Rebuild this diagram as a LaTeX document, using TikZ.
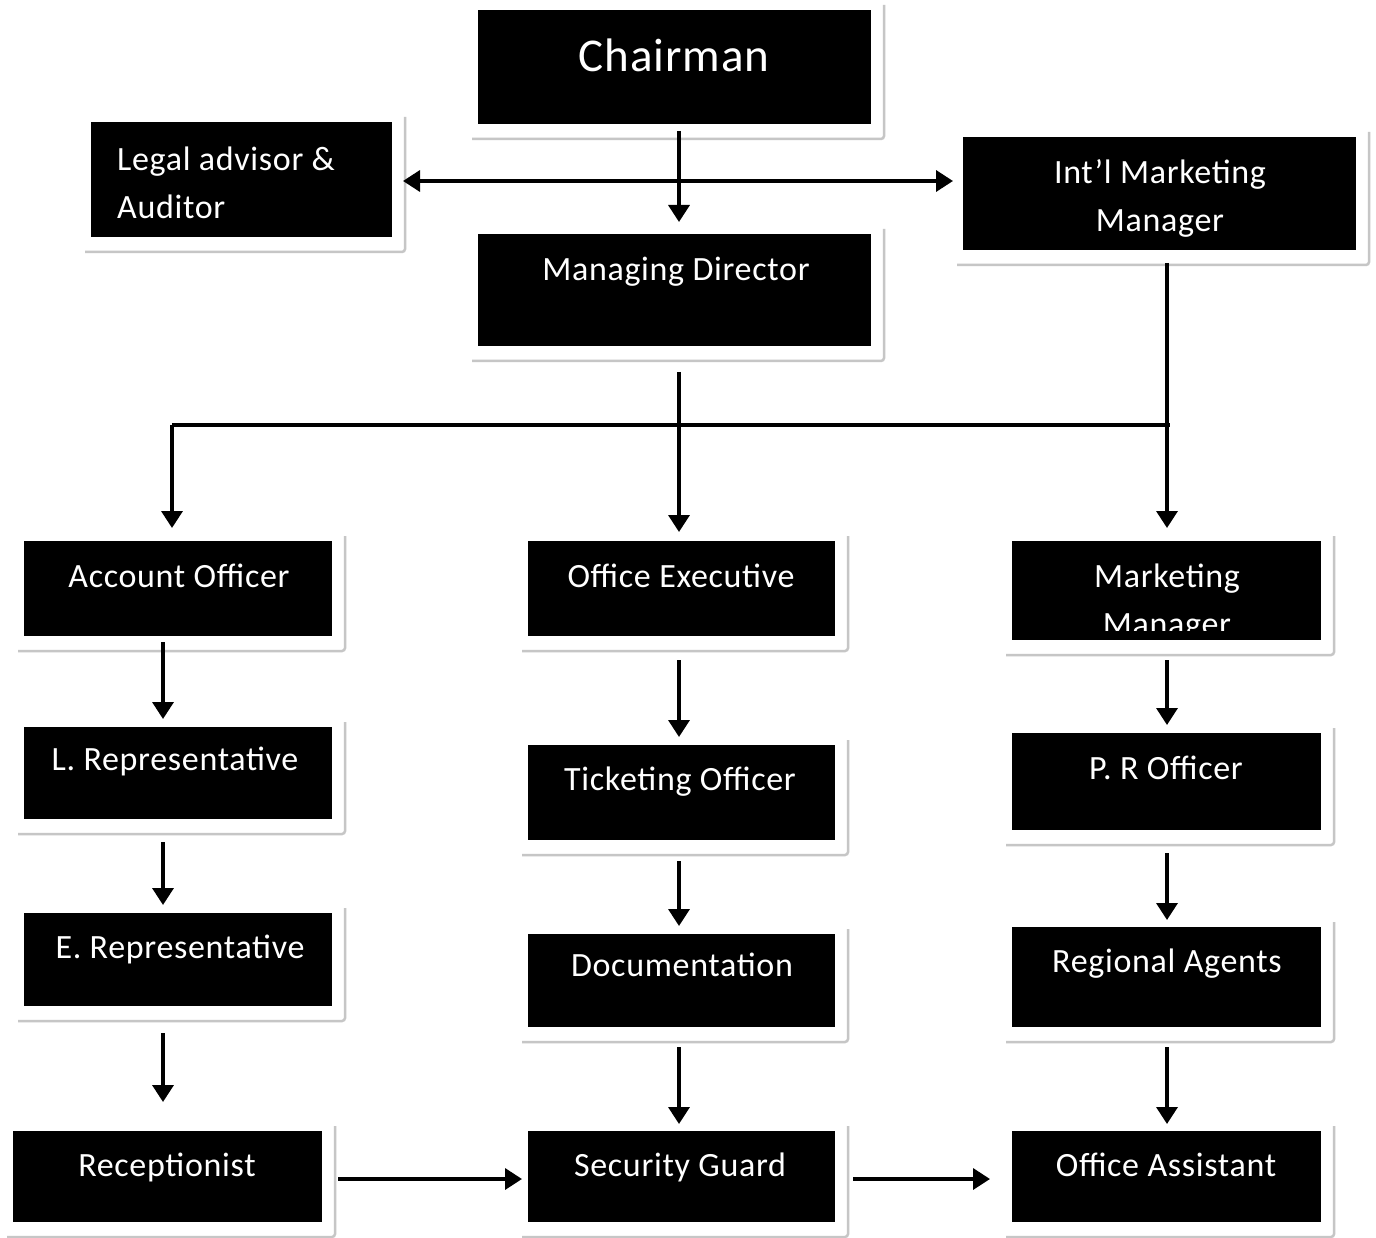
\documentclass[tikz,border=0pt]{standalone}
\usepackage{fontspec}
\setmainfont[LetterSpace=2]{Carlito}
\usetikzlibrary{arrows.meta}
\tikzset{
  blackbox/.style={fill=black, draw=none, inner sep=0pt, outer sep=0pt, rectangle},
  framebox/.style={draw=gray!45, line width=2.5pt, rounded corners=3pt},
  lbl/.style={text=white, inner sep=0pt, font=\fontsize{34}{40}\selectfont, anchor=base},
  arr/.style={line width=3.5pt, -{Triangle[length=17pt,width=21pt]}},
  dblarr/.style={line width=3.5pt, {Triangle[length=17pt,width=21pt]}-{Triangle[length=17pt,width=21pt]}},
  plain/.style={line width=3.5pt}
}
\newcommand{\orgbox}[5]{%
  \draw[framebox] (#2-6,#5+15) -- (#4+13,#5+15) -- (#4+13,#3-5);
  \node[blackbox, minimum width={(#4-#2)*1pt}, minimum height={(#5-#3)*1pt}, anchor=north west] (#1) at (#2,#3) {};
}
\begin{document}
\begin{tikzpicture}[x=1pt,y=-1pt]
\useasboundingbox[fill=white] (0,0) rectangle (1376,1238);
% boxes
\orgbox{chair}{478}{10}{871}{124}
\orgbox{legal}{91}{122}{392}{237}
\orgbox{intl}{963}{137}{1356}{250}
\orgbox{md}{478}{234}{871}{346}
\orgbox{acc}{24}{541}{332}{636}
\orgbox{oexec}{528}{541}{835}{636}
\orgbox{mm}{1012}{541}{1321}{640}
\orgbox{lrep}{24}{727}{332}{819}
\orgbox{tick}{528}{745}{835}{840}
\orgbox{pr}{1012}{733}{1321}{830}
\orgbox{erep}{24}{913}{332}{1006}
\orgbox{doc}{528}{934}{835}{1027}
\orgbox{reg}{1012}{927}{1321}{1027}
\orgbox{recep}{13}{1131}{322}{1222}
\orgbox{sec}{528}{1131}{835}{1222}
\orgbox{oa}{1012}{1131}{1321}{1222}
% labels
\node[lbl, font=\fontsize{47}{56}\selectfont] (chairT) at (674,72) {Chairman};
\node[lbl, anchor=base west] (legalT1) at (117,171) {Legal advisor \&};
\node[lbl, anchor=base west] (legalT2) at (117,219) {Auditor};
\node[lbl] (intlT1) at (1160,184) {Int’l Marketing};
\node[lbl] (intlT2) at (1160,232) {Manager};
\node[lbl] (mdT) at (676,281) {Managing Director};
\node[lbl] (accT) at (179,587) {Account Officer};
\node[lbl] (oexecT) at (681,587) {Office Executive};
\node[lbl] (mmT1) at (1167,587) {Marketing};
\begin{scope}
  \clip (mm.north west) rectangle (1321,630);
  \node[lbl] (mmT2) at (1167,635) {Manager};
\end{scope}
\node[lbl] (lrepT) at (175,770) {L. Representative};
\node[lbl] (tickT) at (680,790) {Ticketing Officer};
\node[lbl] (prT) at (1166,779) {P. R Officer};
\node[lbl] (erepT) at (180,958) {E. Representative};
\node[lbl] (docT) at (682,976) {Documentation};
\node[lbl] (regT) at (1167,972) {Regional Agents};
\node[lbl] (recepT) at (167,1176) {Receptionist};
\node[lbl] (secT) at (680,1176) {Security Guard};
\node[lbl] (oaT) at (1166,1176) {Office Assistant};
% junction coordinates
\coordinate (jL) at (172,425);
\coordinate (jR) at (1170,425);
\coordinate (jM) at (679,181);
% connectors
\draw[arr] (chair.south -| jM) ++(0,7) -- ([yshift=12pt]md.north -| jM);
\draw[dblarr] ([xshift=11pt]legal.east |- jM) -- ([xshift=-10pt]intl.west |- jM);
\draw[plain] ([yshift=-13pt]intl.south -| 1167,0) -- (1167,425);
\draw[arr] (1167,425) -- ([yshift=13pt]mm.north -| 1167,0);
\draw[plain] (jL) -- (jR);
\draw[arr] (jL) -- ([yshift=13pt]acc.north -| jL);
\draw[arr] ([yshift=-26pt]md.south -| jM) -- ([yshift=9pt]oexec.north -| jM);
% left column
\draw[arr] ([yshift=-6pt]acc.south -| 163,0) -- ([yshift=8pt]lrep.north -| 163,0);
\draw[arr] ([yshift=-23pt]lrep.south -| 163,0) -- ([yshift=8pt]erep.north -| 163,0);
\draw[arr] ([yshift=-27pt]erep.south -| 163,0) -- ([yshift=29pt]recep.north -| 163,0);
% middle column
\draw[arr] ([yshift=-24pt]oexec.south -| jM) -- ([yshift=8pt]tick.north -| jM);
\draw[arr] ([yshift=-21pt]tick.south -| jM) -- ([yshift=8pt]doc.north -| jM);
\draw[arr] ([yshift=-20pt]doc.south -| jM) -- ([yshift=7pt]sec.north -| jM);
% right column
\draw[arr] ([yshift=-20pt]mm.south -| 1167,0) -- ([yshift=8pt]pr.north -| 1167,0);
\draw[arr] ([yshift=-23pt]pr.south -| 1167,0) -- ([yshift=7pt]reg.north -| 1167,0);
\draw[arr] ([yshift=-20pt]reg.south -| 1167,0) -- ([yshift=7pt]oa.north -| 1167,0);
% bottom row
\draw[arr] ([xshift=16pt]recep.east |- 0,1179) -- ([xshift=-6pt]sec.west |- 0,1179);
\draw[arr] ([xshift=18pt]sec.east |- 0,1179) -- ([xshift=-22pt]oa.west |- 0,1179);
\end{tikzpicture}
\end{document}
